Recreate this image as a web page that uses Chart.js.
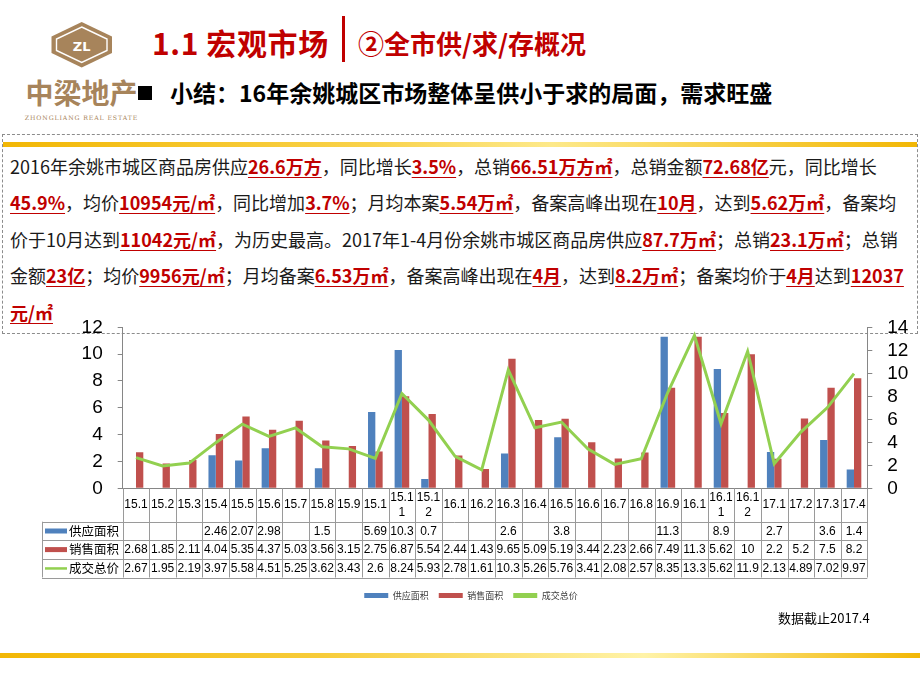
<!DOCTYPE html>
<html>
<head>
<meta charset="utf-8">
<script src="https://cdn.jsdelivr.net/npm/chart.js@4.4.1/dist/chart.umd.min.js"></script>
<style>
  body { margin: 0; width: 920px; height: 690px; position: relative; overflow: hidden; background: #fff;
         font-family: "Noto Sans CJK SC", "Liberation Sans", sans-serif; }
  .abs { position: absolute; white-space: nowrap; }
  #title1, #title2 { font-weight: bold; color: #c00000; }
  #title1 { left: 152px; top: 21px; font-size: 30px; line-height: 42px; letter-spacing: 0.6px; }
  #title2 { left: 358px; top: 24px; font-size: 26px; line-height: 38px; }
  #titleBar { left: 342px; top: 16px; width: 3px; height: 46px; background: #c00000; }
  #square { left: 138px; top: 86px; width: 14px; height: 14px; background: #000; }
  #summary { left: 170px; top: 74px; font-size: 23px; font-weight: bold; color: #000; line-height: 36px; }
  #box { left: 2px; top: 134px; width: 914px; height: 198px; border: 1px dashed #8c8c8c; }
  #band1 { left: 3px; top: 142px; width: 914px; height: 5px;
           background: linear-gradient(90deg, #f2b705, #f9d24a 40%, #fde98a 60%, #f2b705); }
  #para { left: 10px; top: 148px; font-size: 18px; line-height: 36.4px; color: #1a1a1a; }
  #para b { color: #c00000; text-decoration: underline; text-decoration-thickness: 1px; text-underline-offset: 3px; }
  #chartBox { left: 28px; top: 300px; width: 886px; height: 310px; }
  #note { left: 778px; top: 608px; font-size: 13px; color: #000; line-height: 20px; }
  #band2 { left: 0; top: 653px; width: 920px; height: 5px;
           background: linear-gradient(90deg, #f2b705, #f7cc3a 35%, #fff3a8 70%, #f2b705); }
</style>
</head>
<body>
<svg class="abs" style="left:0;top:0" width="160" height="125" viewBox="0 0 160 125">
  <polygon points="81.7,22 112,36.5 112,53 81.7,67.5 51.5,53 51.5,36.5" fill="#a7845b"/>
  <polygon points="81.7,27 107,39 107,50.5 81.7,62.5 56.5,50.5 56.5,39" fill="none" stroke="#fff" stroke-width="1.4"/>
  <text x="81.7" y="50.5" text-anchor="middle" font-family="DejaVu Sans" font-weight="bold" font-size="13" fill="#fff">ZL</text>
  <text x="81.5" y="104" text-anchor="middle" font-family="Noto Sans CJK SC" font-weight="bold" font-size="28" fill="#a7845b">中梁地产</text>
  <text x="81.5" y="120" text-anchor="middle" font-family="DejaVu Serif" font-size="6.2" letter-spacing="0.9" fill="#a7845b">ZHONGLIANG REAL ESTATE</text>
</svg>
<div id="title1" class="abs">1.1 宏观市场</div>
<div id="titleBar" class="abs"></div>
<div id="title2" class="abs">②全市供/求/存概况</div>
<div id="square" class="abs"></div>
<div id="summary" class="abs">小结：16年余姚城区市场整体呈供小于求的局面，需求旺盛</div>

<div id="box" class="abs"></div>
<div id="band1" class="abs"></div>
<div id="para" class="abs">2016年余姚市城区商品房供应<b>26.6万方</b>，同比增长<b>3.5%</b>，总销<b>66.51万方㎡</b>，总销金额<b>72.68亿</b>元，同比增长<br><b>45.9%</b>，均价<b>10954元/㎡</b>，同比增加<b>3.7%</b>；月均本案<b>5.54万㎡</b>，备案高峰出现在<b>10月</b>，达到<b>5.62万㎡</b>，备案均<br>价于10月达到<b>11042元/㎡</b>，为历史最高。2017年1-4月份余姚市城区商品房供应<b>87.7万㎡</b>；总销<b>23.1万㎡</b>；总销<br>金额<b>23亿</b>；均价<b>9956元/㎡</b>；月均备案<b>6.53万㎡</b>，备案高峰出现在<b>4月</b>，达到<b>8.2万㎡</b>；备案均价于<b>4月</b>达到<b>12037</b><br><b>元/㎡</b></div>

<div id="chartBox" class="abs"><canvas id="chart"></canvas></div>
<div id="note" class="abs">数据截止2017.4</div>
<div id="band2" class="abs"></div>

<script>
// month labels as they appear in the table header (narrow cells wrap 15.11 -> 15.1 / 1)
const tickLabels = ['15.1', '15.2', '15.3', '15.4', '15.5', '15.6', '15.7', '15.8', '15.9', '15.1',
    ['15.1', '1'], ['15.1', '2'], '16.1', '16.2', '16.3', '16.4', '16.5', '16.6', '16.7', '16.8',
    '16.9', '16.1', ['16.1', '1'], ['16.1', '2'], '17.1', '17.2', '17.3', '17.4'];

// 供应面积 (万㎡)
const supplyArea = [null, null, null, 2.46, 2.07, 2.98, null, 1.5, null, 5.69, 10.3, 0.7, null, null,
    2.6, null, 3.8, null, null, null, 11.3, null, 8.9, null, 2.7, null, 3.6, 1.4];
// 销售面积 (万㎡)
const salesArea = [2.68, 1.85, 2.11, 4.04, 5.35, 4.37, 5.03, 3.56, 3.15, 2.75, 6.87, 5.54, 2.44, 1.43,
    9.65, 5.09, 5.19, 3.44, 2.23, 2.66, 7.49, 11.3, 5.62, 10, 2.2, 5.2, 7.5, 8.2];
// 成交总价 (亿元)
const totalPrice = [2.67, 1.95, 2.19, 3.97, 5.58, 4.51, 5.25, 3.62, 3.43, 2.6, 8.24, 5.93, 2.78, 1.61,
    10.3, 5.26, 5.76, 3.41, 2.08, 2.57, 8.35, 13.3, 5.62, 11.9, 2.13, 4.89, 7.02, 9.97];

const seriesNames = ['供应面积', '销售面积', '成交总价'];
const seriesColors = ['#4f81bd', '#c0504d', '#92d050'];

const AXIS_GREY = '#868686';
const NUM_FONT = '"Liberation Sans", Arial, sans-serif';
const CJK_FONT = '"Noto Sans CJK SC", sans-serif';

// draws the excel style data table under the plot, columns taken from the x scale
const dataTable = {
    id: 'dataTable',
    afterDraw: (chart) => {
        const { ctx, chartArea, scales } = chart;
        const x = scales.x;
        const n = tickLabels.length;
        const half = (x.getPixelForValue(1) - x.getPixelForValue(0)) / 2;
        const left = x.getPixelForValue(0) - half;
        const right = x.getPixelForValue(n - 1) + half;
        const keyLeft = left - 80.7;
        const top = chartArea.bottom;
        const headH = 33.4;
        const rowH = 18.6;
        const bottom = top + headH + rowH * 3;
        const rows = [supplyArea, salesArea, totalPrice];

        ctx.save();
        ctx.strokeStyle = '#9a9a9a';
        ctx.lineWidth = 1;
        ctx.beginPath();
        for (let i = 0; i <= n; i++) {
            const cx = Math.round(left + i * half * 2) + 0.5;
            ctx.moveTo(cx, top);
            ctx.lineTo(cx, bottom);
        }
        ctx.moveTo(Math.round(keyLeft) + 0.5, top + headH);
        ctx.lineTo(Math.round(keyLeft) + 0.5, bottom);
        for (let r = 0; r <= 3; r++) {
            const ry = Math.round(top + headH + r * rowH) + 0.5;
            ctx.moveTo(keyLeft, ry);
            ctx.lineTo(right, ry);
        }
        ctx.stroke();

        // header labels
        ctx.fillStyle = '#000';
        ctx.textAlign = 'center';
        ctx.textBaseline = 'middle';
        ctx.font = '12px ' + NUM_FONT;
        tickLabels.forEach((label, i) => {
            const cx = x.getPixelForValue(i);
            if (Array.isArray(label)) {
                ctx.fillText(label[0], cx, top + 9);
                ctx.fillText(label[1], cx, top + 24);
            } else {
                ctx.fillText(label, cx, top + headH / 2);
            }
        });

        // series rows
        rows.forEach((values, r) => {
            const cy = top + headH + r * rowH + rowH / 2;
            ctx.fillStyle = seriesColors[r];
            if (r === 2) {
                ctx.fillRect(keyLeft + 3, cy - 1, 22, 2.5);
            } else {
                ctx.fillRect(keyLeft + 3, cy - 2.5, 22, 5);
            }
            ctx.fillStyle = '#000';
            ctx.textAlign = 'left';
            ctx.font = '12.5px ' + CJK_FONT;
            ctx.fillText(seriesNames[r], keyLeft + 27, cy);
            ctx.textAlign = 'center';
            ctx.font = '12px ' + NUM_FONT;
            values.forEach((v, i) => {
                if (v !== null) {
                    ctx.fillText(String(v), x.getPixelForValue(i), cy + 0.5);
                }
            });
        });
        ctx.restore();
    },
};

new Chart(document.getElementById('chart'), {
    type: 'bar',
    data: {
        labels: tickLabels,
        datasets: [
            {
                label: seriesNames[0],
                data: supplyArea,
                backgroundColor: seriesColors[0],
                yAxisID: 'y',
                barPercentage: 1,
                categoryPercentage: 0.55,
            },
            {
                label: seriesNames[1],
                data: salesArea,
                backgroundColor: seriesColors[1],
                yAxisID: 'y',
                barPercentage: 1,
                categoryPercentage: 0.55,
            },
            {
                type: 'line',
                label: seriesNames[2],
                data: totalPrice,
                borderColor: seriesColors[2],
                backgroundColor: seriesColors[2],
                borderWidth: 3,
                pointRadius: 0,
                tension: 0,
                yAxisID: 'y1',
                order: -1,
            },
        ],
    },
    options: {
        responsive: true,
        maintainAspectRatio: false,
        animation: false,
        layout: { padding: { top: 27.3, left: 0, right: 0, bottom: 0 } },
        plugins: {
            tooltip: { enabled: false },
            legend: {
                position: 'bottom',
                labels: {
                    boxWidth: 24,
                    boxHeight: 5,
                    padding: 10,
                    color: '#404040',
                    font: { size: 9, family: CJK_FONT },
                    generateLabels: (chart) => {
                        const items = Chart.defaults.plugins.legend.labels.generateLabels(chart);
                        items.forEach((item) => { item.lineWidth = 0; });
                        return items.sort((a, b) => a.datasetIndex - b.datasetIndex);
                    },
                },
            },
        },
        scales: {
            x: {
                grid: { display: false },
                ticks: { display: false },
                border: { color: AXIS_GREY },
                afterFit: (scale) => { scale.height = 92.7; },
            },
            y: {
                position: 'left',
                min: 0,
                max: 12,
                ticks: { stepSize: 2, autoSkip: false, color: '#000', padding: 15, font: { size: 19, family: NUM_FONT } },
                grid: { drawOnChartArea: false, tickLength: 5, color: AXIS_GREY },
                border: { color: AXIS_GREY },
                afterFit: (scale) => { scale.width = 94.7; },
            },
            y1: {
                position: 'right',
                min: 0,
                max: 14,
                ticks: { stepSize: 2, autoSkip: false, color: '#000', padding: 15, font: { size: 19, family: NUM_FONT } },
                grid: { drawOnChartArea: false, tickLength: 5, color: AXIS_GREY },
                border: { color: AXIS_GREY },
                afterFit: (scale) => { scale.width = 46.7; },
            },
        },
    },
    plugins: [dataTable],
});
</script>
</body>
</html>
